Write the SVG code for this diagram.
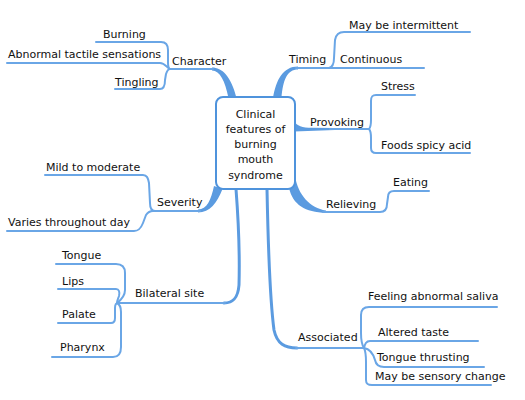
<svg xmlns="http://www.w3.org/2000/svg" width="525" height="400" viewBox="0 0 525 400">
<style>
text{font-family:"DejaVu Sans","Liberation Sans",sans-serif;font-size:11px;fill:#111}
.c{fill:none;stroke:#6aa6e6;stroke-width:2;stroke-linecap:round;stroke-linejoin:round}
.k{fill:none;stroke:#5b9be0;stroke-width:3;stroke-linecap:round}
.w{fill:#5b9be0;stroke:none}
.box{fill:#fff;stroke:#4f93dc;stroke-width:2}
</style>
<rect width="525" height="400" fill="#fff"/>
<g id="connectors">
<path class="w" d="M212 67.5 C222 67.5 231 76 236.5 98 L228.5 98 C225 81 220 70.5 212 70.5 Z"/>
<path class="w" d="M273 98 C276 80 283 66.5 298 66.5 L298 69.5 C287 69.5 283 80 281.5 98 Z"/>
<path class="w" d="M294 121 C297 126 302 127.8 312 127.8 L335 128 L335 130 L294 131.5 Z"/>
<path class="w" d="M295 176 C298 195 310 208 326 210.5 L326 213 C305 212 293 205 289 188 Z"/>
<path class="w" d="M214 186 C211 200 207 209.5 198 209.5 L198 212.5 C210 212.5 217 203 222.5 189 Z"/>
<path class="k" d="M236 189 C238 215 240 250 239 285 C238 298 233 303 224 303"/>
<path class="k" d="M267 189 C268 240 270 300 274 330 C277 344 285 348 297 348"/>
<path class="c" d="M169 69 L213 69"/>
<path class="c" d="M96 42 L161 42 C166 42 168 45 168 50 L168 63 C168 67 169 69 170 69"/>
<path class="c" d="M7 63 L160 63 C165 63 167 68 170 69"/>
<path class="c" d="M115 89 L160 89 C164 89 165 86 165 80 L166 74 C167 71 168 69 170 69"/>
<path class="c" d="M296 68 L424 68"/>
<path class="c" d="M329 68 C333 67 334 63 334 58 L335 40 C336 34 339 32 344 32 L470 32"/>
<path class="c" d="M330 129 L369 129"/>
<path class="c" d="M369 129 C371 127 371 124 371 120 L371 101 C371 97 372 95 376 95 L415 95"/>
<path class="c" d="M369 129 C371 131 371 134 371 138 L371 148 C371 151 372 153 376 153 L470 153"/>
<path class="c" d="M323 212 L380 212 C385 212 387 209 387 204 L388 197 C388 193 390 191 394 191 L429 191"/>
<path class="c" d="M152 211 L200 211"/>
<path class="c" d="M45 175 L143 175 C147 175 148 178 149 183 L150 203 C150 208 151 211 155 211"/>
<path class="c" d="M7 231 L134 231 C139 231 141 228 143 223 L146 215 C148 212 150 211 153 211"/>
<path class="c" d="M117 303 L225 303"/>
<path class="c" d="M56 264 L116 264 C122 264 125 267 125 273 L125 290 C125 296 121 300 117 303"/>
<path class="c" d="M58 289 L116 289 C119 289 120 292 119 296 C118 299 117 301 117 303"/>
<path class="c" d="M58 323 L111 323 C114 323 115 321 115 318 L115 308 C115 305 116 303 118 303"/>
<path class="c" d="M52 357 L113 357 C119 357 121 353 121 347 L121 312 C121 307 119 304 117 303"/>
<path class="c" d="M296 348 L364 348"/>
<path class="c" d="M364 348 C362 345 361 340 361 333 L361 315 C361 310 364 307 369 307 L497 307"/>
<path class="c" d="M364 348 C365 344 366 341 370 341 L478 341"/>
<path class="c" d="M364 348 C370 349 373 353 375 360 C376 365 379 367 384 367 L484 367"/>
<path class="c" d="M364 348 C366 352 366 356 366 362 L366 380 C366 384 368 385 372 385 L491 385"/>
</g>
<g id="center">
<rect class="box" x="216" y="97" width="79" height="92" rx="7"/>
<text x="255.5" y="117.7" text-anchor="middle">Clinical</text>
<text x="255.5" y="132.9" text-anchor="middle">features of</text>
<text x="255.5" y="148.1" text-anchor="middle">burning</text>
<text x="255.5" y="163.3" text-anchor="middle">mouth</text>
<text x="255.5" y="178.5" text-anchor="middle">syndrome</text>
</g>
<g id="character"><text x="172" y="64.5">Character</text></g>
<g id="burning"><text x="103" y="37.5">Burning</text></g>
<g id="abnormal-tactile"><text x="8" y="58">Abnormal tactile sensations</text></g>
<g id="tingling"><text x="115" y="85.7">Tingling</text></g>
<g id="timing"><text x="289" y="62.5">Timing</text></g>
<g id="continuous"><text x="340" y="62.5">Continuous</text></g>
<g id="intermittent"><text x="349" y="28.5">May be intermittent</text></g>
<g id="provoking"><text x="310" y="125.5">Provoking</text></g>
<g id="stress"><text x="381" y="89.5">Stress</text></g>
<g id="foods"><text x="381" y="148.5">Foods spicy acid</text></g>
<g id="relieving"><text x="326" y="208">Relieving</text></g>
<g id="eating"><text x="393" y="185.7">Eating</text></g>
<g id="severity"><text x="157" y="205.5">Severity</text></g>
<g id="mild"><text x="46" y="170.5">Mild to moderate</text></g>
<g id="varies"><text x="8" y="225.5">Varies throughout day</text></g>
<g id="bilateral"><text x="135" y="297">Bilateral site</text></g>
<g id="tongue"><text x="62" y="258.5">Tongue</text></g>
<g id="lips"><text x="62" y="284.5">Lips</text></g>
<g id="palate"><text x="62" y="318">Palate</text></g>
<g id="pharynx"><text x="60" y="351.3">Pharynx</text></g>
<g id="associated"><text x="298" y="341.3">Associated</text></g>
<g id="saliva"><text x="368" y="300.3">Feeling abnormal saliva</text></g>
<g id="taste"><text x="378" y="336.3">Altered taste</text></g>
<g id="thrusting"><text x="377" y="361.3">Tongue thrusting</text></g>
<g id="sensory"><text x="375" y="380.3">May be sensory change</text></g>
</svg>
